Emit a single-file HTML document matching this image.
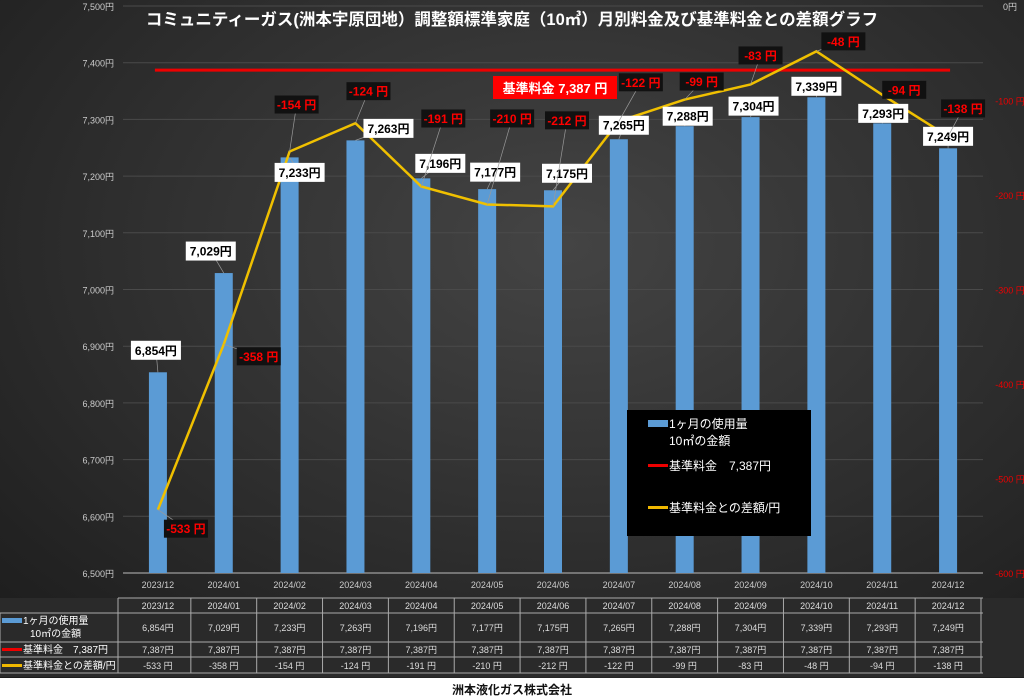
<!DOCTYPE html>
<html><head><meta charset="utf-8">
<style>
html,body{margin:0;padding:0;width:1024px;height:699px;overflow:hidden;background:#262626;}
svg{display:block;font-family:"Liberation Sans","Noto Sans CJK JP",sans-serif;}
</style></head>
<body>
<svg id="c" width="1024" height="699" viewBox="0 0 1024 699">
<defs>
<radialGradient id="bg" cx="0.55" cy="0.35" r="0.8">
<stop offset="0" stop-color="#444"/><stop offset="1" stop-color="#1c1c1c"/>
</radialGradient>
</defs>
<rect x="0" y="0" width="1024" height="699" fill="url(#bg)"/>
<g id="grid"></g>
<g id="bars"></g>
<g id="lines"></g>
<g id="labels"></g>
<text x="512" y="25" fill="#fff" font-size="16.5" font-weight="bold" text-anchor="middle">コミュニティーガス(洲本宇原団地）調整額標準家庭（10㎥）月別料金及び基準料金との差額グラフ</text>
<g>
<rect x="493" y="76" width="124" height="23" fill="#ff0000"/>
<text x="555" y="93" fill="#fff" font-size="13" font-weight="bold" text-anchor="middle">基準料金 7,387 円</text>
</g>
<g>
<rect x="627" y="410" width="184" height="126" fill="#000"/>
<rect x="648" y="420" width="20" height="7" fill="#5b9bd5"/>
<text x="669" y="428" fill="#fff" font-size="12">1ヶ月の使用量</text>
<text x="669" y="445" fill="#fff" font-size="12">10㎡の金額</text>
<rect x="648" y="464" width="20" height="3" fill="#e00"/>
<text x="669" y="470" fill="#fff" font-size="12">基準料金　7,387円</text>
<rect x="648" y="506" width="20" height="3" fill="#f0b800"/>
<text x="669" y="512" fill="#fff" font-size="12">基準料金との差額/円</text>
</g>
<g id="table"></g>
<text x="512" y="694" fill="#111" font-size="12" font-weight="bold" text-anchor="middle">洲本液化ガス株式会社</text>
</svg>
<script>
const categories=["2023/12","2024/01","2024/02","2024/03","2024/04","2024/05","2024/06","2024/07","2024/08","2024/09","2024/10","2024/11","2024/12"];
const prices=[6854,7029,7233,7263,7196,7177,7175,7265,7288,7304,7339,7293,7249];
const basePrice=7387;
const diffs=[-533,-358,-154,-124,-191,-210,-212,-122,-99,-83,-48,-94,-138];
const leftTicks=[6500,6600,6700,6800,6900,7000,7100,7200,7300,7400,7500];
const rightTicks=[0,-100,-200,-300,-400,-500,-600];

// label layout offsets (pixels, styling only)
const priceLabelOffsetX=[-2,-13,10,33,19,8,14,5,3,3,0,1,0];
const priceLabelOffsetY=[-22,-22,15,-12,-15,-17,-17,-14,-10,-11,-11,-10,-12];
const diffLabelOffsetX=[28,35,7,13,22,25,14,22,17,10,27,22,15];
const diffLabelOffsetY=[19,12,-47,-32,-68,-86,-86,-39,-18,-29,-10,-5,-28];

const NS="http://www.w3.org/2000/svg";
const X0=125,X1=981,YT=6,YB=573;
const bw=(X1-X0)/categories.length;
const xC=i=>X0+bw*(i+0.5);
const yL=v=>YB-(v-6500)/1000*(YB-YT);
const yR=v=>YT+(-v)/600*(YB-YT);
const fmt=v=>v.toLocaleString("en-US");
function mk(tag,attrs,parent,txt){const e=document.createElementNS(NS,tag);for(const k in attrs)e.setAttribute(k,attrs[k]);if(txt!==undefined)e.textContent=txt;parent.appendChild(e);return e;}
const grid=document.getElementById("grid"),bars=document.getElementById("bars"),lines=document.getElementById("lines"),labels=document.getElementById("labels"),table=document.getElementById("table");

leftTicks.forEach(t=>{
  const g=mk("line",{x1:123,x2:983,y1:yL(t),y2:yL(t),stroke:t===6500?"#bbb":"#4a4a4a","stroke-width":1},grid);
  
  
  const l=mk("text",{x:114,y:yL(t)+4,fill:"#ccc","font-size":9,"text-anchor":"end"},grid,fmt(t)+"円");
  
  
});
rightTicks.forEach(t=>{
  const l=mk("text",{x:1010,y:yR(t)+4,fill:t===0?"#ccc":"#e00","font-size":9,"text-anchor":"middle"},grid,t===0?"0円":t+" 円");
  
  
});
categories.forEach((c,i)=>{
  const l=mk("text",{x:xC(i),y:588,fill:"#ccc","font-size":9,"text-anchor":"middle"},grid,c);
  
  
});
prices.forEach((p,i)=>{
  const r=mk("rect",{x:xC(i)-9,y:yL(p),width:18,height:YB-yL(p),fill:"#5b9bd5"},bars);
  
  
});
const bl=mk("line",{x1:xC(0)-3,x2:xC(categories.length-1)+2,y1:yL(basePrice),y2:yL(basePrice),stroke:"#e00","stroke-width":3},lines);


const pl=mk("polyline",{points:diffs.map((d,i)=>xC(i)+","+yR(d)).join(" "),fill:"none",stroke:"#f0c000","stroke-width":2.5},lines);



prices.forEach((p,i)=>{
  const t=fmt(p)+"円",w=50,cx=xC(i)+priceLabelOffsetX[i],cy=yL(p)+priceLabelOffsetY[i];
  const g=mk("g",{},labels);
  
  
  mk("line",{x1:cx,y1:cy,x2:xC(i),y2:yL(p),stroke:"#999","stroke-width":0.7},g);
  mk("rect",{x:cx-w/2,y:cy-9.5,width:w,height:19,fill:"#fff"},g);
  mk("text",{x:cx,y:cy+4.5,fill:"#000","font-size":12,"font-weight":"bold","text-anchor":"middle"},g,t);
});
diffs.forEach((d,i)=>{
  const w=44,cx=xC(i)+diffLabelOffsetX[i],cy=yR(d)+diffLabelOffsetY[i];
  const g=mk("g",{},labels);
  
  
  mk("line",{x1:cx,y1:cy,x2:xC(i),y2:yR(d),stroke:"#999","stroke-width":0.7},g);
  mk("rect",{x:cx-w/2,y:cy-9,width:w,height:18,fill:"#111"},g);
  mk("text",{x:cx,y:cy+4.5,fill:"#f00","font-size":12,"font-weight":"bold","text-anchor":"middle"},g,d+" 円");
});

// table
const tx0=118,rows=[598,613,642,657,673];
mk("rect",{x:0,y:rows[0],width:1024,height:rows[4]-rows[0]+4,fill:"#2a2a2a"},table);
rows.forEach((y,k)=>{if(k>0)mk("line",{x1:0,x2:983,y1:y,y2:y,stroke:"#aaa","stroke-width":1},table);});
mk("line",{x1:tx0,x2:983,y1:rows[0],y2:rows[0],stroke:"#aaa"},table);
for(let i=0;i<=categories.length;i++){mk("line",{x1:X0+bw*i-(i===0?7:0),x2:X0+bw*i-(i===0?7:0),y1:rows[0],y2:rows[4],stroke:"#aaa"},table);}
mk("line",{x1:0,x2:0,y1:rows[1],y2:rows[4],stroke:"#aaa"},table);
mk("rect",{x:2,y:618,width:20,height:5,fill:"#5b9bd5"},table);
mk("text",{x:23,y:624,fill:"#fff","font-size":10},table,"1ヶ月の使用量");
mk("text",{x:30,y:637,fill:"#fff","font-size":10},table,"10㎡の金額");
mk("rect",{x:2,y:648,width:20,height:3,fill:"#e00"},table);
mk("text",{x:23,y:653,fill:"#fff","font-size":10},table,"基準料金　7,387円");
mk("rect",{x:2,y:664,width:20,height:3,fill:"#f0b800"},table);
mk("text",{x:23,y:669,fill:"#fff","font-size":10},table,"基準料金との差額/円");
categories.forEach((c,i)=>{
  const a={x:xC(i),fill:"#ddd","font-size":9,"text-anchor":"middle"};
  const h=mk("text",Object.assign({y:609},a),table,c);
  
  
  const c1=mk("text",Object.assign({y:631},a),table,fmt(prices[i])+"円");
  
  
  const c2=mk("text",Object.assign({y:653},a),table,fmt(basePrice)+"円");
  
  
  const c3=mk("text",Object.assign({y:669},a),table,diffs[i]+" 円");
  
  
});
mk("rect",{x:0,y:678,width:1024,height:21,fill:"#fff"},table);
</script>
</body></html>
